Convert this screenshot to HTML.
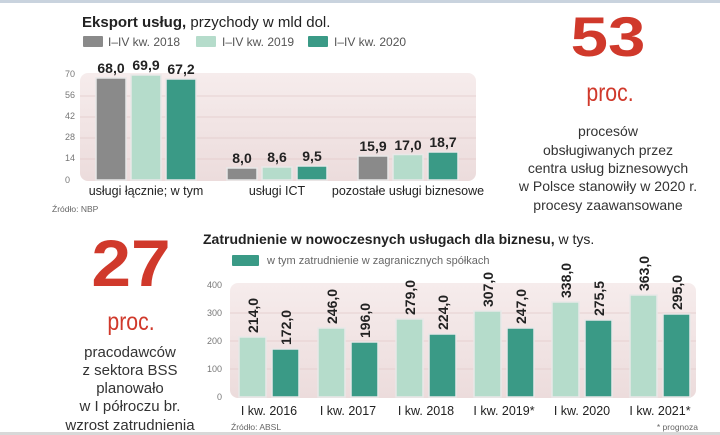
<!DOCTYPE html>
<html><head><meta charset="utf-8"><style>
body{margin:0;background:#fff;}
svg{display:block;font-family:"Liberation Sans",sans-serif;}
</style></head><body>
<svg width="720" height="435" viewBox="0 0 720 435">
<defs>
<linearGradient id="bg" x1="0" y1="0" x2="0" y2="1"><stop offset="0" stop-color="#f6ecec"/><stop offset="1" stop-color="#ecdcdc"/></linearGradient>
</defs>
<rect x="0" y="0" width="720" height="3" fill="#c9d3de"/>
<rect x="0" y="432" width="720" height="3" fill="#d8d8d8"/>
<!-- top chart -->
<text x="82" y="27" font-size="15" fill="#222"><tspan font-weight="bold">Eksport usług,</tspan> przychody w mld dol.</text>
<rect x="83" y="36" width="20" height="11" fill="#8a8a8a" rx="1"/><text x="108" y="46" font-size="12" fill="#555">I–IV kw. 2018</text>
<rect x="196" y="36" width="20" height="11" fill="#b5dccb" rx="1"/><text x="222" y="46" font-size="12" fill="#555">I–IV kw. 2019</text>
<rect x="308" y="36" width="20" height="11" fill="#3a9a86" rx="1"/><text x="334" y="46" font-size="12" fill="#555">I–IV kw. 2020</text>
<rect x="80" y="73" width="396" height="108" rx="8" fill="url(#bg)"/>
<g stroke="#e2caca" stroke-width="0.7"><line x1="80" y1="159" x2="476" y2="159"/><line x1="80" y1="138" x2="476" y2="138"/><line x1="80" y1="117" x2="476" y2="117"/><line x1="80" y1="96" x2="476" y2="96"/></g>
<g font-size="9" fill="#777"><text x="65" y="77">70</text><text x="65" y="98">56</text><text x="65" y="119">42</text><text x="65" y="140">28</text><text x="65" y="161">14</text><text x="65" y="183">0</text></g>
<g stroke="#e8e8e8" stroke-width="1.5">
<rect x="96" y="78" width="30" height="102" fill="#8a8a8a"/>
<rect x="131" y="75" width="30" height="105" fill="#b5dccb"/>
<rect x="166" y="79" width="30" height="101" fill="#3a9a86"/>
<rect x="227" y="168" width="30" height="12" fill="#8a8a8a"/>
<rect x="262" y="167" width="30" height="13" fill="#b5dccb"/>
<rect x="297" y="166" width="30" height="14" fill="#3a9a86"/>
<rect x="358" y="156" width="30" height="24" fill="#8a8a8a"/>
<rect x="393" y="154.5" width="30" height="25.5" fill="#b5dccb"/>
<rect x="428" y="152" width="30" height="28" fill="#3a9a86"/>
</g>
<g font-size="14" font-weight="bold" fill="#222" text-anchor="middle">
<text x="111" y="73">68,0</text><text x="146" y="70">69,9</text><text x="181" y="74">67,2</text>
<text x="242" y="163">8,0</text><text x="277" y="162">8,6</text><text x="312" y="161">9,5</text>
<text x="373" y="151">15,9</text><text x="408" y="150">17,0</text><text x="443" y="147">18,7</text>
</g>
<g font-size="12.5" fill="#222" text-anchor="middle">
<text x="146" y="195">usługi łącznie; w tym</text><text x="277" y="195">usługi ICT</text><text x="408" y="195">pozostałe usługi biznesowe</text>
</g>
<text x="52" y="212" font-size="8.5" fill="#666">Źródło: NBP</text>
<!-- 53 -->
<text x="608" y="56" font-size="56" font-weight="bold" fill="#d0392b" text-anchor="middle" transform="translate(608 0) scale(1.2 1) translate(-608 0)">53</text>
<text x="610" y="101" font-size="25" fill="#d0392b" text-anchor="middle" transform="translate(610 0) scale(0.85 1) translate(-610 0)">proc.</text>
<g font-size="14" fill="#333" text-anchor="middle">
<text x="608" y="136">procesów</text><text x="608" y="155">obsługiwanych przez</text><text x="608" y="173">centra usług biznesowych</text><text x="608" y="191">w Polsce stanowiły w 2020 r.</text><text x="608" y="210">procesy zaawansowane</text>
</g>
<!-- 27 -->
<text x="131" y="286" font-size="66" font-weight="bold" fill="#d0392b" text-anchor="middle" transform="translate(131 0) scale(1.08 1) translate(-131 0)">27</text>
<text x="131" y="330" font-size="25" fill="#d0392b" text-anchor="middle" transform="translate(131 0) scale(0.85 1) translate(-131 0)">proc.</text>
<g font-size="15" fill="#333" text-anchor="middle">
<text x="130" y="357">pracodawców</text><text x="130" y="375">z sektora BSS</text><text x="130" y="393">planowało</text><text x="130" y="411">w I półroczu br.</text><text x="130" y="430">wzrost zatrudnienia</text>
</g>
<!-- bottom chart -->
<text x="203" y="244" font-size="14" fill="#222"><tspan font-weight="bold">Zatrudnienie w nowoczesnych usługach dla biznesu,</tspan> w tys.</text>
<rect x="232" y="255" width="27" height="11" fill="#3a9a86" rx="1"/><text x="267" y="264" font-size="11" fill="#666">w tym zatrudnienie w zagranicznych spółkach</text>
<rect x="230" y="283" width="466" height="115" rx="8" fill="url(#bg)"/>
<g stroke="#e2caca" stroke-width="0.7"><line x1="230" y1="313" x2="696" y2="313"/><line x1="230" y1="341" x2="696" y2="341"/><line x1="230" y1="369" x2="696" y2="369"/></g>
<g font-size="9" fill="#777" text-anchor="end"><text x="222" y="288">400</text><text x="222" y="316">300</text><text x="222" y="344">200</text><text x="222" y="372">100</text><text x="222" y="400">0</text></g>
<g stroke="#e8e8e8" stroke-width="1.5">
<rect x="239" y="337" width="27" height="60" fill="#b5dccb"/><rect x="272" y="349" width="27" height="48" fill="#3a9a86"/>
<rect x="318" y="328" width="27" height="69" fill="#b5dccb"/><rect x="351" y="342" width="27" height="55" fill="#3a9a86"/>
<rect x="396" y="319" width="27" height="78" fill="#b5dccb"/><rect x="429" y="334" width="27" height="63" fill="#3a9a86"/>
<rect x="474" y="311" width="27" height="86" fill="#b5dccb"/><rect x="507" y="328" width="27" height="69" fill="#3a9a86"/>
<rect x="552" y="302" width="27" height="95" fill="#b5dccb"/><rect x="585" y="320" width="27" height="77" fill="#3a9a86"/>
<rect x="630" y="295" width="27" height="102" fill="#b5dccb"/><rect x="663" y="314" width="27" height="83" fill="#3a9a86"/>
</g>
<g font-size="14" font-weight="bold" fill="#222">
<text transform="translate(258 333) rotate(-90)">214,0</text><text transform="translate(291 345) rotate(-90)">172,0</text>
<text transform="translate(337 324) rotate(-90)">246,0</text><text transform="translate(370 338) rotate(-90)">196,0</text>
<text transform="translate(415 315) rotate(-90)">279,0</text><text transform="translate(448 330) rotate(-90)">224,0</text>
<text transform="translate(493 307) rotate(-90)">307,0</text><text transform="translate(526 324) rotate(-90)">247,0</text>
<text transform="translate(571 298) rotate(-90)">338,0</text><text transform="translate(604 316) rotate(-90)">275,5</text>
<text transform="translate(649 291) rotate(-90)">363,0</text><text transform="translate(682 310) rotate(-90)">295,0</text>
</g>
<g font-size="12.5" fill="#222" text-anchor="middle">
<text x="269" y="415">I kw. 2016</text><text x="348" y="415">I kw. 2017</text><text x="426" y="415">I kw. 2018</text><text x="504" y="415">I kw. 2019*</text><text x="582" y="415">I kw. 2020</text><text x="660" y="415">I kw. 2021*</text>
</g>
<text x="231" y="430" font-size="8.5" fill="#666">Źródło: ABSL</text>
<text x="698" y="430" font-size="8.5" fill="#666" text-anchor="end">* prognoza</text>
</svg>
</body></html>
